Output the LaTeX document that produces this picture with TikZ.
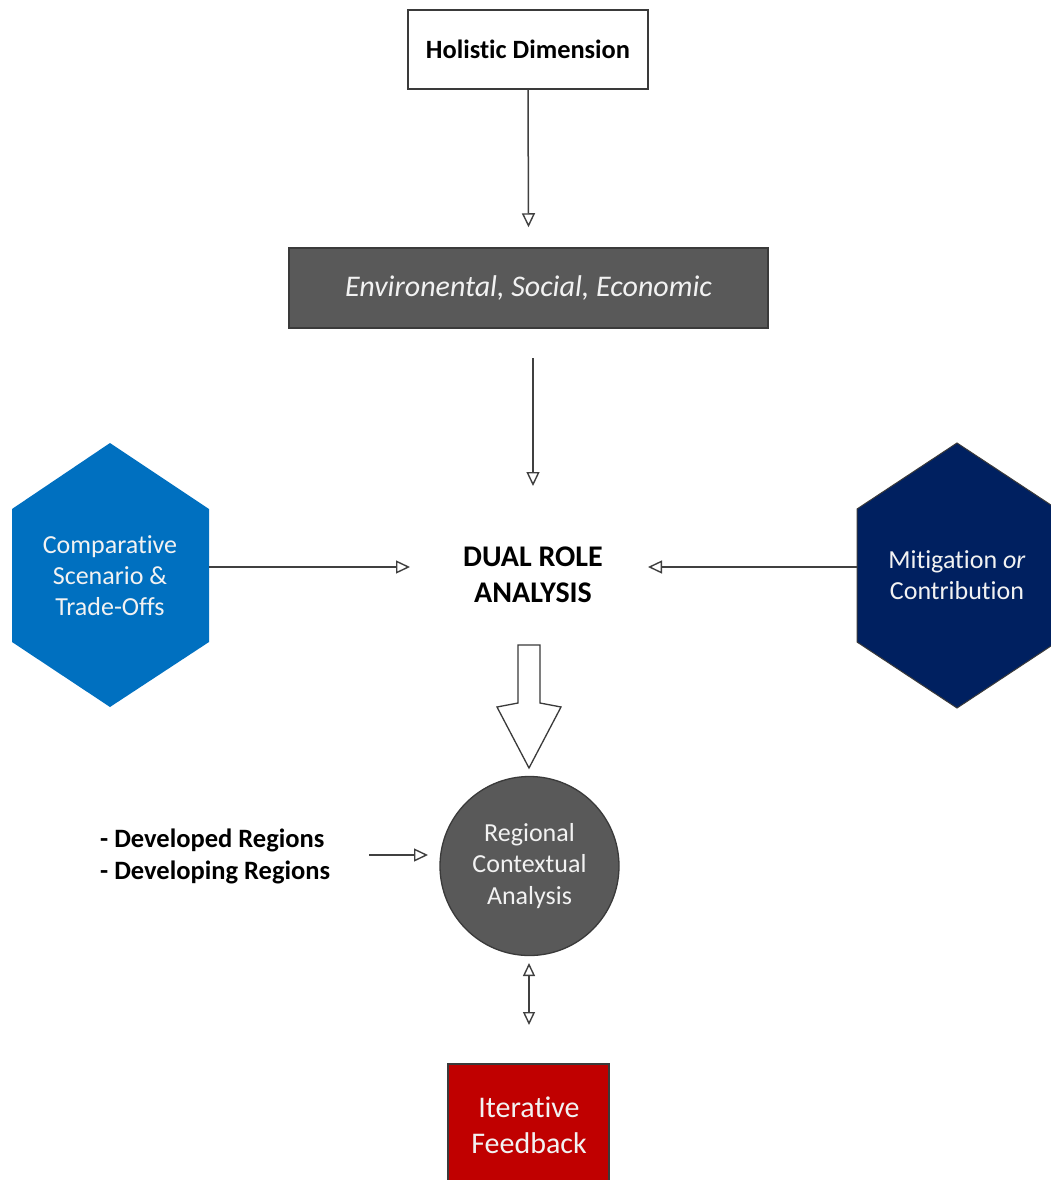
\documentclass[tikz,border=0pt]{standalone}
\usepackage{fontspec}
\setmainfont{Carlito}[Ligatures={NoCommon,NoContextual}, Contextuals={NoAlternate}]
\usetikzlibrary{arrows.meta}
\definecolor{envgray}{HTML}{595959}
\definecolor{edgegray}{HTML}{3A3A3A}
\definecolor{lineg}{HTML}{404040}
\definecolor{hexblue}{HTML}{0070C0}
\definecolor{hexnavy}{HTML}{002060}
\definecolor{fbred}{HTML}{C00000}
\definecolor{lighttxt}{HTML}{F2F2F2}
\tikzset{
  conn/.style={draw=lineg, line width=1.5pt, -{Triangle[length=14pt,width=13pt,fill=white,line width=1.4pt]}},
  dconn/.style={draw=lineg, line width=1.5pt, {Triangle[length=13pt,width=12pt,fill=white,line width=1.4pt]}-{Triangle[length=13pt,width=12pt,fill=white,line width=1.4pt]}},
  boxw/.style={draw=edgegray, fill=white, line width=1.3pt, minimum width=240pt, minimum height=79pt, inner sep=0pt,
     font=\fontsize{26.4}{31}\selectfont\bfseries},
  boxg/.style={draw=edgegray, fill=envgray, line width=1.5pt, minimum width=479pt, minimum height=80pt, inner sep=0pt,
     text=lighttxt, font=\fontsize{30}{35}\selectfont\itshape},
  lbl/.style={align=center, inner sep=0pt, text=white},
}
\begin{document}
\begin{tikzpicture}[x=1pt,y=-1pt]
\useasboundingbox (0,0) rectangle (1051,1180);
\fill[white] (0,0) rectangle (1051,1180);

% top boxes
\node[boxw] (hol) at (528,49.5) {Holistic Dimension};
\node[boxg] (env) at (528.5,288) {Environental, Social, Economic};

% central label
\node[align=center, inner sep=0pt, font=\fontsize{30}{36}\selectfont\bfseries] (dual) at (533,575) {DUAL ROLE\\ANALYSIS};

% hexagons
\fill[hexblue] (110,443) -- (209,509) -- (209,642) -- (110,707) -- (12,642) -- (12,509) -- cycle;
\node[lbl, text=lighttxt, font=\fontsize{26}{31}\selectfont] (cmp) at (110,576) {Comparative\\Scenario \&\\Trade-Offs};
\fill[hexnavy] (957,443) -- (1057,509) -- (1057,642) -- (957,708) -- (857,642) -- (857,509) -- cycle;
\draw[edgegray, line width=1pt] (1057,509) -- (957,443) -- (857,509) -- (857,642) -- (957,708) -- (1057,642);
\node[lbl, text=lighttxt, font=\fontsize{26}{31}\selectfont] (mit) at (957,575.5) {Mitigation \textit{or}\\Contribution};

% circle
\node[circle, draw=edgegray, fill=envgray, line width=1.3pt, minimum size=179pt, inner sep=0pt,
      align=center, text=lighttxt, font=\fontsize{26}{31.5}\selectfont] (reg) at (529.5,866) {Regional\\Contextual\\Analysis};

% regions list
\node[anchor=west, align=left, inner sep=0pt, font=\fontsize{26.5}{32}\selectfont\bfseries] (regs) at (100,856) {- Developed Regions\\- Developing Regions};

% feedback box
\fill[fbred] (448,1064) rectangle (609,1195);
\draw[edgegray, line width=1.3pt] (448,1195) -- (448,1064) -- (609,1064) -- (609,1195);
\node[lbl, text=lighttxt, font=\fontsize{30}{36}\selectfont] (fb) at (529,1125) {Iterative\\Feedback};

% connector end points
\coordinate (envOut) at (533,358);
\coordinate (dualIn) at (533,486);
\coordinate (cmpOut) at (209,567);
\coordinate (dualL) at (410,567);
\coordinate (mitOut) at (857,567);
\coordinate (dualR) at (648,567);
\coordinate (regsOut) at (369,855);
\coordinate (regIn) at (428,855);
\coordinate (regLow) at (529,963);
\coordinate (fbTop) at (529,1025);

% connectors
\draw[conn] (hol.south) -- ([yshift=20pt]env.north);
\draw[conn] (envOut) -- (dualIn);
\draw[conn] (cmpOut) -- (dualL);
\draw[conn] (mitOut) -- (dualR);
\draw[conn] (regsOut) -- (regIn);
\draw[dconn] (regLow) -- (fbTop);

% block arrow
\draw[edgegray, fill=white, line width=1.3pt, line join=miter]
  (518,645) -- (540,645) -- (540,703) -- (561,707) -- (529,768) -- (497,707) -- (518,703) -- cycle;
\end{tikzpicture}
\end{document}
